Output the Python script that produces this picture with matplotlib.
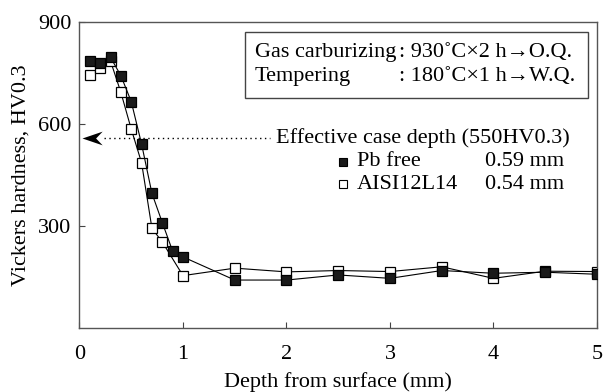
import matplotlib.pyplot as plt
from matplotlib.patches import Rectangle

plt.rcParams['font.family'] = ['Liberation Serif', 'DejaVu Serif']

# Pb free (filled squares)
depth_pb = [0.1, 0.2, 0.3, 0.4, 0.5, 0.6, 0.7, 0.8, 0.9, 1.0, 1.5, 2.0, 2.5, 3.0, 3.5, 4.0, 4.5, 5.0]
hv_pb = [786, 778, 796, 742, 666, 541, 396, 310, 226, 209, 141, 141, 156, 146, 169, 161, 164, 158]

# AISI12L14 (open squares)
depth_aisi = [0.1, 0.2, 0.3, 0.4, 0.5, 0.6, 0.7, 0.8, 1.0, 1.5, 2.0, 2.5, 3.0, 3.5, 4.0, 4.5, 5.0]
hv_aisi = [744, 764, 785, 693, 585, 486, 293, 253, 154, 176, 165, 169, 166, 180, 146, 167, 166]

case_depth_hv = 558
legend_names = ["Pb free", "AISI12L14"]
legend_depths = ["0.59 mm", "0.54 mm"]
cond_names = ["Gas carburizing", "Tempering"]
cond_values = [": 930˚C×2 h→O.Q.", ": 180˚C×1 h→W.Q."]

W, H = 604, 392
fs = 16


def px(x, y):
    # pixel position from top-left -> figure fraction
    return x / W, 1 - y / H


fig = plt.figure(figsize=(6.04, 3.92), dpi=100)
ax = fig.add_axes([0.1316, 0.1633, 0.8568, 0.7806])

ax.plot(depth_aisi, hv_aisi, color='black', lw=0.8, marker='s', ms=7.4,
        mfc='white', mec='black', mew=0.9, zorder=2)
ax.plot(depth_pb, hv_pb, color='black', lw=0.8, marker='s', ms=7.4,
        mfc='#1a1a1a', mec='black', mew=0.9, zorder=3)

ax.set_xlim(0, 5)
ax.set_ylim(0, 900)
ax.set_xticks([0, 1, 2, 3, 4, 5])
ax.set_yticks([300, 600, 900])
ax.tick_params(direction='in', length=4, width=0.8, labelsize=fs, color='#444444')
ax.tick_params(axis='x', pad=12)
ax.tick_params(axis='y', pad=6)
for s in ax.spines.values():
    s.set_color('#555555')
    s.set_linewidth(1.0)

ax.set_xlabel("Depth from surface (mm)", fontsize=fs, labelpad=6)
ax.set_ylabel("Vickers hardness, HV0.3", fontsize=fs, labelpad=5)

# treatment conditions box
x0, y0 = px(245, 98)
x1, y1 = px(588, 32)
fig.patches.append(Rectangle((x0, y0), x1 - x0, y1 - y0, transform=fig.transFigure,
                             fc='white', ec='#444444', lw=1.0, zorder=5))
for i in range(2):
    fig.text(*px(255, 52 + i * 25), cond_names[i], fontsize=fs, va='center', ha='left', zorder=6)
    fig.text(*px(399, 52 + i * 25), cond_values[i], fontsize=fs, va='center', ha='left', zorder=6)

# effective case depth arrow
ax.plot([0.24, 1.84], [case_depth_hv, case_depth_hv], color='black', lw=1.0,
        ls=(0, (1, 2.5)))
head = [(0, 0), (2, 0.68), (1.35, 0), (2, -0.68), (0, 0)]
ax.plot([0.02], [case_depth_hv], ls='none', marker=head, ms=29, color='black',
        mew=0, clip_on=False, zorder=4)
ax.text(1.90, case_depth_hv, "Effective case depth (550HV0.3)", fontsize=fs,
        va='center', ha='left')

# legend
fills = ['#1a1a1a', 'white']
for i in range(2):
    yy = 162 + i * 22
    fig.lines.append(plt.Line2D([343 / W], [1 - yy / H], transform=fig.transFigure,
                                ls='none', marker='s', ms=5.2, mfc=fills[i], mec='black', mew=0.8))
    fig.text(*px(357, yy), legend_names[i], fontsize=fs, va='center', ha='left')
    fig.text(*px(485, yy), legend_depths[i], fontsize=fs, va='center', ha='left')

fig.savefig("out.png", dpi=100)
